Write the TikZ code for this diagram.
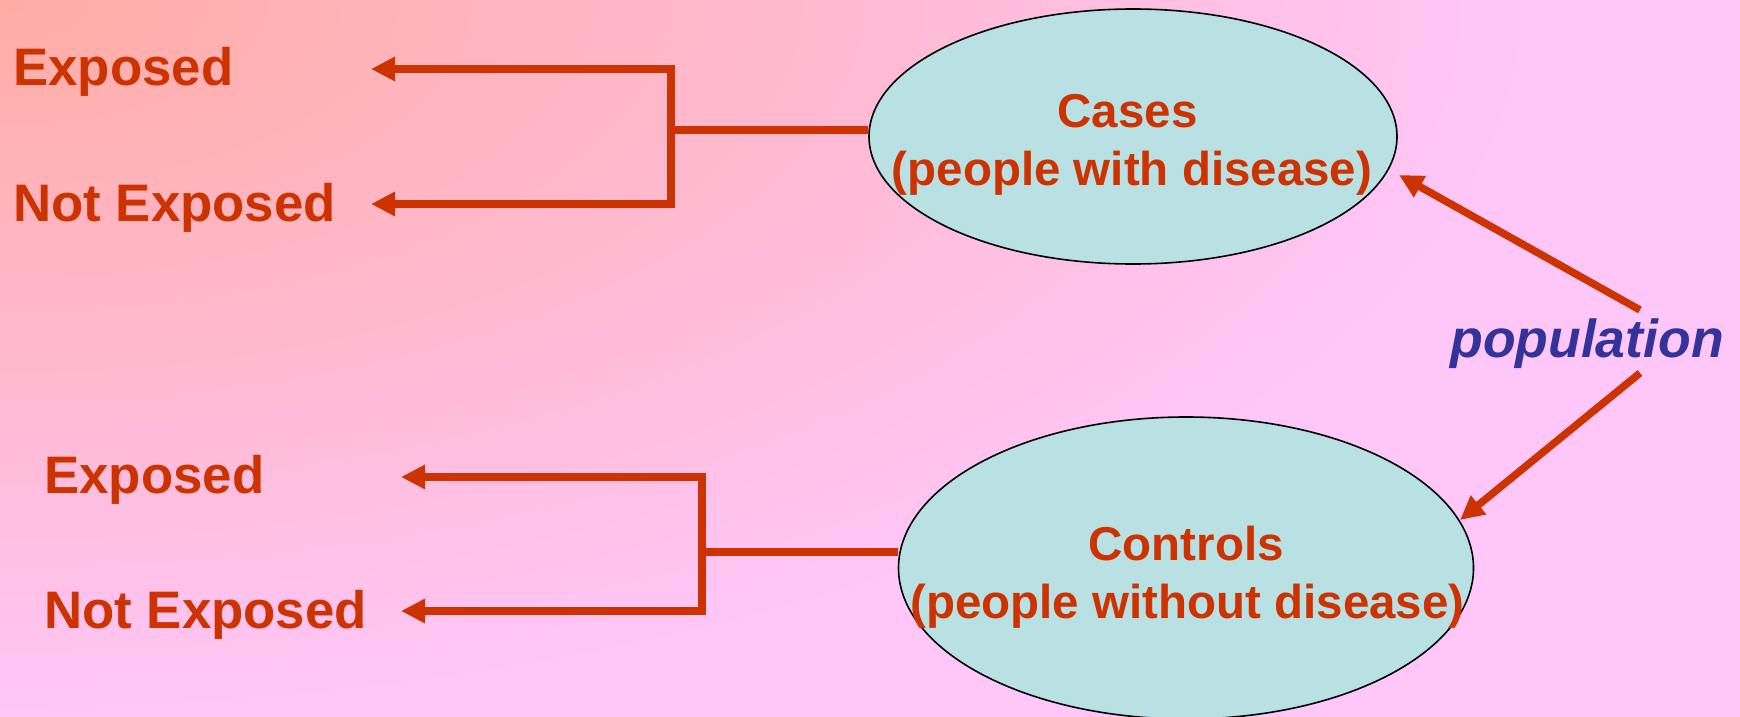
\documentclass[tikz,border=0pt]{standalone}
\usepackage{fontspec}
\setmainfont{Liberation Sans}
\usetikzlibrary{arrows.meta,shapes.geometric}
\definecolor{txtred}{HTML}{CC3300}
\definecolor{cyanfill}{HTML}{B9E0E2}
\definecolor{popblue}{HTML}{333399}
\definecolor{bgsalmon}{HTML}{FFACA4}
\definecolor{bgpink}{HTML}{FFC6F8}
\begin{document}
\begin{tikzpicture}[x=1pt,y=-1pt,
  lbl/.style={text=txtred, font=\fontsize{52.8}{60}\selectfont\bfseries, inner sep=0, anchor=base west},
  etxt/.style={text=txtred, font=\fontsize{47.5}{56}\selectfont\bfseries, inner sep=0, anchor=base},
  blob/.style={ellipse, draw=black, line width=1.6pt, fill=cyanfill, inner sep=0},
  conn/.style={draw=txtred, line width=7.5pt},
  arr/.style={conn, -{Triangle[length=24pt,width=23pt]}}]
\useasboundingbox (0,0) rectangle (1740,717);
% background
\fill[bgpink] (0,0) rectangle (1740,717);
\begin{scope}
  \clip (0,0) rectangle (1740,717);
  \shade[inner color=bgsalmon, outer color=bgpink] (0,0) ellipse [x radius=1550, y radius=720];
\end{scope}

% ellipses
\node[blob, minimum width=528pt, minimum height=255pt] (cases) at (1133,136.5) {};
\node[blob, minimum width=575pt, minimum height=302pt] (controls) at (1186,568) {};
\node[etxt] (casesA) at (1127.5,127) {Cases};
\node[etxt] (casesB) at (1132,185) {(people with disease)};
\node[etxt] (ctrlA) at (1186,560) {Controls};
\node[etxt] (ctrlB) at (1187.5,618) {(people without disease)};

% left labels
\node[lbl] (exp1) at (13,85) {Exposed};
\node[lbl] (nexp1) at (13,221) {Not Exposed};
\node[lbl] (exp2) at (44,493) {Exposed};
\node[lbl] (nexp2) at (44,628) {Not Exposed};

% population
\node[text=popblue, font=\fontsize{53.5}{60}\selectfont\bfseries\itshape, inner sep=0, anchor=base] (pop) at (1587,357) {population};

% coordinates
\coordinate (b1) at (671,69);
\coordinate (b2) at (671,204);
\coordinate (j1) at (671,130);
\coordinate (t1) at (371,69);
\coordinate (t2) at (371,204);
\coordinate (c1) at (702,477);
\coordinate (c2) at (702,611);
\coordinate (k1) at (702,552);
\coordinate (u1) at (401,477);
\coordinate (u2) at (401,611);
\coordinate (p1) at (1640,310);
\coordinate (p2) at (1640,373);
\coordinate (q1) at (1399,175);
\coordinate (q2) at (1460,520);

% top bracket
\draw[conn, line cap=rect] (b1) -- (b2);
\draw[conn] (j1) -- (j1 -| cases.west);
\draw[arr] (b1) -- (t1);
\draw[arr] (b2) -- (t2);
% bottom bracket
\draw[conn, line cap=rect] (c1) -- (c2);
\draw[conn] (k1) -- (k1 -| controls.west);
\draw[arr] (c1) -- (u1);
\draw[arr] (c2) -- (u2);
% population arrows
\draw[arr] (p1) -- (q1);
\draw[arr] (p2) -- (q2);
\end{tikzpicture}
\end{document}
